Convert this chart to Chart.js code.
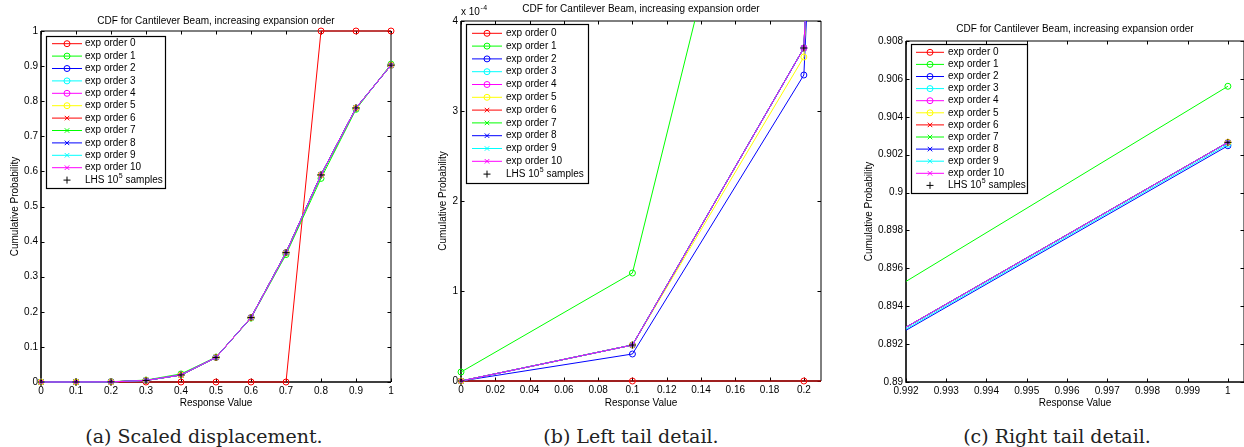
<!DOCTYPE html>
<html>
<head>
<meta charset="utf-8">
<script src="https://cdn.jsdelivr.net/npm/chart.js@4.4.1/dist/chart.umd.min.js"></script>
<style>
  html, body { margin: 0; padding: 0; background: #fff; overflow: hidden; }
  body { width: 1244px; height: 447px; position: relative; }
  .panel { position: absolute; top: 0; }
  .caption { position: absolute; top: 424px; width: 400px; height: 24px; line-height: 24px;
             font-family: 'DejaVu Serif', serif; font-size: 19px; color: #222; text-align: center; }
</style>
</head>
<body>
<div class="panel" style="left:0px"><canvas id="cdfA" width="401" height="409"></canvas></div>
<div class="panel" style="left:420px"><canvas id="cdfB" width="409" height="409"></canvas></div>
<div class="panel" style="left:840px"><canvas id="cdfC" width="412" height="409"></canvas></div>
<div class="caption" style="left:4px">(a) Scaled displacement.</div>
<div class="caption" style="left:431px">(b) Left tail detail.</div>
<div class="caption" style="left:857px">(c) Right tail detail.</div>

<script>
// response values (x) shared by every series
const responseValues = [0, 0.1, 0.2, 0.3, 0.4, 0.5, 0.6, 0.7, 0.8, 0.9, 1.0];

const seriesLabels = [
  'exp order 0', 'exp order 1', 'exp order 2', 'exp order 3', 'exp order 4', 'exp order 5',
  'exp order 6', 'exp order 7', 'exp order 8', 'exp order 9', 'exp order 10', 'LHS 10⁵ samples'
];

// cumulative probability per series
const expOrder0  = [0, 0, 0, 0, 0, 0, 0, 0, 1, 1, 1];
const expOrder1  = [0.00001, 0.00012, 0.00089, 0.0055, 0.0230, 0.0710, 0.1820, 0.3630, 0.5800, 0.77685, 0.90561];
const expOrder2  = [0, 0.00003, 0.00034, 0.0044, 0.0199, 0.0700, 0.1835, 0.3686, 0.5900, 0.78072, 0.90247];
const expOrder3  = [0, 0.00004, 0.00037, 0.0045, 0.0200, 0.0700, 0.1835, 0.3685, 0.5900, 0.78060, 0.90255];
const expOrder4  = [0, 0.00004, 0.00037, 0.0045, 0.0200, 0.0700, 0.1835, 0.3685, 0.5900, 0.78065, 0.90265];
const expOrder5  = [0, 0.00004, 0.00036, 0.0045, 0.0200, 0.0700, 0.1835, 0.3685, 0.5900, 0.78065, 0.90265];
const expOrder6  = [0, 0.00004, 0.00037, 0.0045, 0.0200, 0.0700, 0.1835, 0.3685, 0.5900, 0.78065, 0.90265];
const expOrder7  = [0, 0.00004, 0.00037, 0.0045, 0.0200, 0.0700, 0.1835, 0.3685, 0.5900, 0.78065, 0.90265];
const expOrder8  = [0, 0.00004, 0.00037, 0.0045, 0.0200, 0.0700, 0.1835, 0.3685, 0.5900, 0.78065, 0.90265];
const expOrder9  = [0, 0.00004, 0.00037, 0.0045, 0.0200, 0.0700, 0.1835, 0.3685, 0.5900, 0.78065, 0.90265];
const expOrder10 = [0, 0.00004, 0.00037, 0.0045, 0.0200, 0.0700, 0.1835, 0.3685, 0.5900, 0.78065, 0.90265];
const lhsSamples = [0, 0.00004, 0.00037, 0.0045, 0.0200, 0.0700, 0.1835, 0.3685, 0.5900, 0.78065, 0.90265];

const seriesValues = [expOrder0, expOrder1, expOrder2, expOrder3, expOrder4, expOrder5,
  expOrder6, expOrder7, expOrder8, expOrder9, expOrder10, lhsSamples];

// tick values of each panel
const ticksAx = [0, 0.1, 0.2, 0.3, 0.4, 0.5, 0.6, 0.7, 0.8, 0.9, 1];
const ticksAy = [0, 0.1, 0.2, 0.3, 0.4, 0.5, 0.6, 0.7, 0.8, 0.9, 1];
const ticksBx = [0, 0.02, 0.04, 0.06, 0.08, 0.1, 0.12, 0.14, 0.16, 0.18, 0.2];
const ticksBy = [0, 0.0001, 0.0002, 0.0003, 0.0004];
const ticksCx = [0.992, 0.993, 0.994, 0.995, 0.996, 0.997, 0.998, 0.999, 1];
const ticksCy = [0.89, 0.892, 0.894, 0.896, 0.898, 0.9, 0.902, 0.904, 0.906, 0.908];

const titleText = 'CDF for Cantilever Beam, increasing expansion order';

// matlab colour order r g b c m y, then black for the LHS reference
const seriesColors = ['#ff0000', '#00ff00', '#0000ff', '#00ffff', '#ff00ff', '#ffff00',
  '#ff0000', '#00ff00', '#0000ff', '#00ffff', '#ff00ff', '#000000'];
const seriesMarkers = ['circle', 'circle', 'circle', 'circle', 'circle', 'circle',
  'crossRot', 'crossRot', 'crossRot', 'crossRot', 'crossRot', 'cross'];

const FONT = '"Liberation Sans", Arial, Helvetica, sans-serif';
Chart.defaults.font.family = FONT;
Chart.defaults.color = '#000';

const SUPERSCRIPTS = { '⁰': '0', '¹': '1', '²': '2', '³': '3', '⁴': '4', '⁵': '5',
  '⁶': '6', '⁷': '7', '⁸': '8', '⁹': '9', '⁻': '-' };

// draw text, raising superscript characters the way matlab's tex does
function drawRichText(ctx, text, x, y) {
  let cx = x;
  for (const ch of text) {
    if (SUPERSCRIPTS[ch]) {
      ctx.font = '7px ' + FONT;
      ctx.fillText(SUPERSCRIPTS[ch], cx + 0.5, y - 4);
      cx += ctx.measureText(SUPERSCRIPTS[ch]).width + 0.5;
    } else {
      ctx.font = '10px ' + FONT;
      ctx.fillText(ch, cx, y);
      cx += ctx.measureText(ch).width;
    }
  }
}

function drawMarker(ctx, style, r, x, y) {
  ctx.beginPath();
  if (style === 'circle') {
    ctx.arc(x, y, r, 0, Math.PI * 2);
  } else if (style === 'crossRot') {
    const d = r * 0.75;
    ctx.moveTo(x - d, y - d); ctx.lineTo(x + d, y + d);
    ctx.moveTo(x - d, y + d); ctx.lineTo(x + d, y - d);
  } else {
    ctx.moveTo(x - r, y); ctx.lineTo(x + r, y);
    ctx.moveTo(x, y - r); ctx.lineTo(x, y + r);
  }
  ctx.stroke();
}

// box with inward ticks on all four sides, drawn under the data like matlab
const matlabFrame = {
  id: 'matlabFrame',
  beforeDatasetsDraw(chart) {
    const { ctx, chartArea: a, scales } = chart;
    const len = 3.5;
    ctx.save();
    ctx.strokeStyle = '#000';
    ctx.lineWidth = 1;
    ctx.beginPath();
    scales.x.ticks.forEach(t => {
      const px = Math.round(scales.x.getPixelForValue(t.value)) + 0.5;
      ctx.moveTo(px, a.bottom); ctx.lineTo(px, a.bottom - len);
      ctx.moveTo(px, a.top); ctx.lineTo(px, a.top + len);
    });
    scales.y.ticks.forEach(t => {
      const py = Math.round(scales.y.getPixelForValue(t.value)) + 0.5;
      ctx.moveTo(a.left, py); ctx.lineTo(a.left + len, py);
      ctx.moveTo(a.right, py); ctx.lineTo(a.right - len, py);
    });
    ctx.stroke();
    ctx.beginPath();
    ctx.moveTo(a.left, a.top); ctx.lineTo(a.right, a.top); ctx.lineTo(a.right, a.bottom);
    ctx.stroke();
    ctx.lineWidth = 1.6;
    ctx.beginPath();
    ctx.moveTo(a.left, a.top); ctx.lineTo(a.left, a.bottom); ctx.lineTo(a.right, a.bottom);
    ctx.stroke();
    ctx.restore();
  }
};

// legend box inside the axes, upper left
const boxLegend = {
  id: 'boxLegend',
  afterDraw(chart, args, o) {
    const { ctx, chartArea: a } = chart;
    const x0 = a.left + o.dx, y0 = a.top + o.dy;
    ctx.save();
    ctx.fillStyle = '#fff';
    ctx.fillRect(x0, y0, o.w, o.h);
    ctx.strokeStyle = '#000';
    ctx.lineWidth = 1.2;
    ctx.strokeRect(x0 + 0.5, y0 + 0.5, o.w, o.h);
    ctx.textBaseline = 'middle';
    chart.data.datasets.forEach((ds, i) => {
      const y = y0 + o.first + i * o.row;
      ctx.strokeStyle = ds.borderColor;
      ctx.lineWidth = 1;
      if (ds.showLine !== false) {
        ctx.beginPath();
        ctx.moveTo(x0 + o.l1, y); ctx.lineTo(x0 + o.l2, y);
        ctx.stroke();
      }
      drawMarker(ctx, ds.pointStyle, ds.pointRadius, x0 + (o.l1 + o.l2) / 2, y);
      ctx.fillStyle = '#000';
      drawRichText(ctx, ds.label, x0 + o.tx, y);
    });
    ctx.restore();
  }
};

// "x 10^-4" multiplier above the y axis
const axisExponent = {
  id: 'axisExponent',
  afterDraw(chart, args, o) {
    if (!o || !o.text) return;
    const { ctx, chartArea: a } = chart;
    ctx.save();
    ctx.fillStyle = '#000';
    ctx.textBaseline = 'middle';
    drawRichText(ctx, o.text, a.left, a.top - 8.5);
    ctx.restore();
  }
};

function buildDatasets(clip) {
  return seriesValues.map((vals, i) => ({
    label: seriesLabels[i],
    data: responseValues.map((x, j) => ({ x: x, y: vals[j] })),
    borderColor: seriesColors[i],
    backgroundColor: 'rgba(0,0,0,0)',
    borderWidth: 1,
    pointStyle: seriesMarkers[i],
    pointRadius: i === 11 ? 3.5 : 3,
    pointBorderWidth: 1,
    pointBorderColor: seriesColors[i],
    pointBackgroundColor: 'rgba(0,0,0,0)',
    showLine: i !== 11,
    tension: 0,
    clip: clip,
    order: seriesValues.length - 1 - i
  }));
}

const fmt = v => String(+v.toFixed(4));

function makePanel(id, cfg) {
  const tickFont = { size: 10 };
  const labelFont = { size: 10 };
  new Chart(document.getElementById(id), {
    type: 'line',
    data: { datasets: buildDatasets(cfg.clip) },
    options: {
      responsive: false,
      animation: false,
      events: [],
      layout: { padding: { left: 0, right: cfg.padRight, top: 0, bottom: 0 } },
      scales: {
        x: {
          type: 'linear', min: cfg.xMin, max: cfg.xMax,
          afterBuildTicks: s => { s.ticks = cfg.xTicks.map(v => ({ value: v })); },
          afterFit: s => { s.height = cfg.xHeight; },
          grid: { display: false, drawTicks: false },
          border: { display: false },
          ticks: { padding: 3, font: tickFont, maxRotation: 0, autoSkip: false, callback: fmt },
          title: { display: true, text: 'Response Value', font: labelFont, padding: { top: 0, bottom: 0 } }
        },
        y: {
          type: 'linear', min: cfg.yMin, max: cfg.yMax,
          afterBuildTicks: s => { s.ticks = cfg.yTicks.map(v => ({ value: v })); },
          afterFit: s => { s.width = cfg.yWidth; },
          grid: { display: false, drawTicks: false },
          border: { display: false },
          ticks: { padding: 3, font: tickFont, autoSkip: false, callback: cfg.yFmt || fmt },
          title: { display: true, text: 'Cumulative Probability', font: labelFont,
                   padding: { top: cfg.yTitleOffset, bottom: 0 } }
        }
      },
      plugins: {
        legend: { display: false },
        tooltip: { enabled: false },
        title: {
          display: true, text: titleText, fullSize: false, color: '#000',
          font: { size: 10, weight: 'normal' },
          padding: { top: cfg.titleTop, bottom: cfg.titleBottom }
        },
        boxLegend: cfg.legend,
        axisExponent: cfg.exponent || {}
      }
    },
    plugins: [matlabFrame, boxLegend, axisExponent]
  });
}

makePanel('cdfA', {
  xMin: 0, xMax: 1, yMin: 0, yMax: 1, xTicks: ticksAx, yTicks: ticksAy,
  clip: { left: 5, top: 5, right: 5, bottom: 5 },
  padRight: 10, xHeight: 27, yWidth: 41, yTitleOffset: 9, titleTop: 15, titleBottom: 4,
  legend: { dx: 5, dy: 5, w: 119, h: 152, first: 7.7, row: 12.4, l1: 6, l2: 36, tx: 39 }
});

makePanel('cdfB', {
  xMin: 0, xMax: 0.21, yMin: 0, yMax: 0.0004, xTicks: ticksBx, yTicks: ticksBy,
  clip: { left: 5, top: 0, right: 0, bottom: 5 },
  padRight: 8, xHeight: 28, yWidth: 41, yTitleOffset: 17, titleTop: 3, titleBottom: 6,
  yFmt: v => String(Math.round(v * 1e4)),
  exponent: { text: 'x 10⁻⁴' },
  legend: { dx: 5, dy: 3, w: 122, h: 159, first: 9.3, row: 12.8, l1: 6, l2: 36, tx: 40 }
});

makePanel('cdfC', {
  xMin: 0.992, xMax: 1.0004, yMin: 0.89, yMax: 0.908, xTicks: ticksCx, yTicks: ticksCy,
  clip: { left: 0, top: 0, right: 0, bottom: 0 },
  padRight: 8, xHeight: 27, yWidth: 66, yTitleOffset: 23, titleTop: 23, titleBottom: 6,
  legend: { dx: 5, dy: 3, w: 116, h: 149, first: 8.3, row: 12.1, l1: 5, l2: 33, tx: 37 }
});
</script>
</body>
</html>
